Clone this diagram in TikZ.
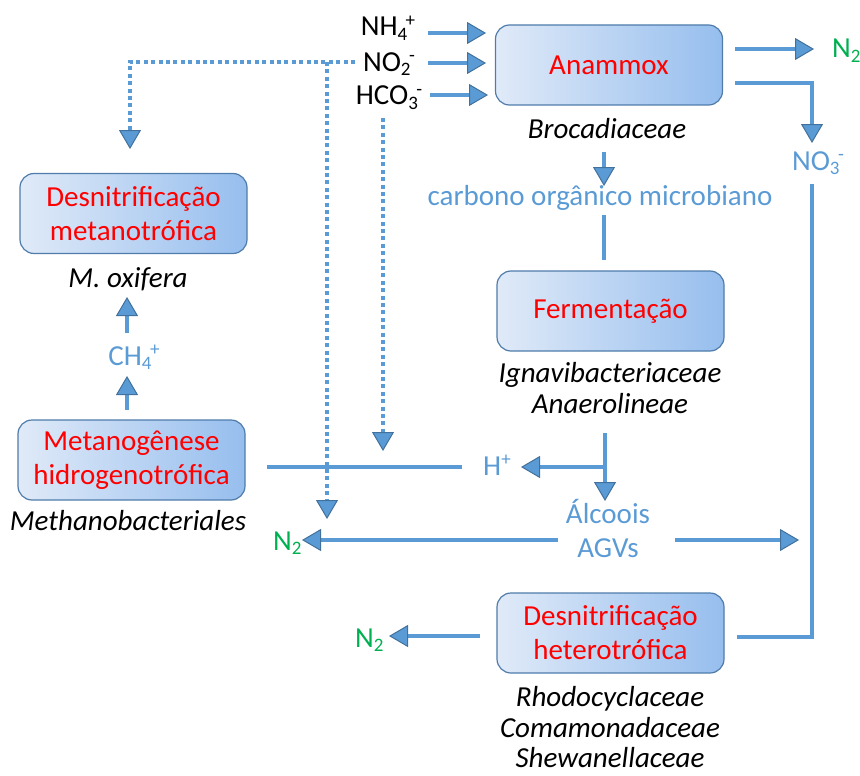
\documentclass[tikz,border=0pt]{standalone}
\usepackage{fontspec}
\setmainfont{Carlito}
\usetikzlibrary{arrows.meta}

\definecolor{flow}{HTML}{5B9BD5}
\definecolor{flowedge}{HTML}{41719C}
\definecolor{boxL}{HTML}{E0EAF8}
\definecolor{boxR}{HTML}{96BEEE}
\definecolor{boxedge}{HTML}{4F7CAB}
\definecolor{procred}{HTML}{FF0000}
\definecolor{gasgreen}{HTML}{00B050}

% small index set below / above the baseline
\newcommand\lowidx[1]{\raisebox{-0.17em}{\fontsize{19}{19}\selectfont #1}}
\newcommand\highidx[1]{\raisebox{0.32em}{\fontsize{19}{19}\selectfont #1}}
% subscript followed by a charge
\newcommand\ionpair[2]{\lowidx{#1}\kern-1.5pt\highidx{#2}}

\tikzset{
  txt/.style={font=\fontsize{29}{34}\selectfont, inner sep=0pt},
  process/.style={txt, draw=boxedge, line width=1.2pt, rounded corners=14pt,
    left color=boxL, right color=boxR, minimum width=227pt, minimum height=80pt,
    align=center, text=procred},
  taxon/.style={txt, font=\fontsize{29}{34}\selectfont\itshape, anchor=base},
  species/.style={txt, text=flow, anchor=base},
  ion/.style={txt, anchor=base},
  gas/.style={txt, text=gasgreen, anchor=base west},
  tip/.style={-{Triangle[length=19pt,width=22pt,line width=1pt,fill=flow,color=flowedge]}},
  flowline/.style={draw=flow, line width=4.5pt},
  flowarrow/.style={flowline, tip},
  dotflow/.style={draw=flow, line width=4pt, dash pattern=on 4pt off 3.4pt},
  dotarrow/.style={dotflow, tip},
}

\begin{document}
\begin{tikzpicture}[x=1pt, y=-1pt]
\useasboundingbox (0,0) rectangle (860,776);

% process boxes
\node[process] (anammox) at (609,65) {Anammox};
\node[process] (metanot) at (133.5,213.5) {Desnitrificação\\metanotrófica};
\node[process] (metanog) at (131.5,460) {Metanogênese\\hidrogenotrófica};
\node[process] (ferment) at (610.5,311) {Fermentação};
\node[process] (hetero) at (610.5,633) {Desnitrificação\\heterotrófica};

% organisms
\node[taxon] (broc) at (607,138) {Brocadiaceae};
\node[taxon] (moxi) at (128,287) {M. oxifera};
\node[taxon] (methb) at (128,530) {Methanobacteriales};
\node[taxon] (ignav) at (610,382) {Ignavibacteriaceae};
\node[taxon] (anaer) at (610,413) {Anaerolineae};
\node[taxon] (rhodo) at (610,706) {Rhodocyclaceae};
\node[taxon] (comam) at (610,737) {Comamonadaceae};
\node[taxon] (shewa) at (610,767) {Shewanellaceae};

% substrates
\node[ion] (nh4) at (388,36) {NH\ionpair{4}{+}};
\node[ion] (no2) at (389,71) {NO\ionpair{2}{-}};
\node[ion] (hco3) at (389,105) {HCO\ionpair{3}{-}};

% intermediates
\node[species] (carb) at (600,205) {carbono orgânico microbiano};
\node[species] (ch4) at (134,365) {CH\ionpair{4}{+}};
\node[species] (hplus) at (497,475) {H\highidx{+}};
\node[species] (alc) at (608,523) {Álcoois};
\node[species] (agv) at (608,557) {AGVs};
\node[species] (no3) at (818,170) {NO\ionpair{3}{-}};

% gaseous products
\node[gas] (n2a) at (832,58) {N\lowidx{2}};
\node[gas] (n2b) at (273,550) {N\lowidx{2}};
\node[gas] (n2c) at (355,647) {N\lowidx{2}};

% connector end points
\coordinate (nh4s) at (428,33);   \coordinate (nh4e) at (486,33);
\coordinate (no2s) at (428,63);   \coordinate (no2e) at (486,63);
\coordinate (hcos) at (430,95);   \coordinate (hcoe) at (488,95);
\coordinate (n2as) at (735,49);   \coordinate (n2ae) at (814,49);
\coordinate (no3s) at (735,83);   \coordinate (no3k) at (812,83);
\coordinate (no3e) at (812,143);
\coordinate (no3o) at (812,184);  \coordinate (hetk) at (812,637);
\coordinate (hete) at (737,637);
\coordinate (brocs) at (604,152); \coordinate (broce) at (604,186);
\coordinate (carbs) at (604,215); \coordinate (carbe) at (604,260);
\coordinate (anas) at (605,433);  \coordinate (anae) at (605,501);
\coordinate (hk) at (605,467);    \coordinate (he) at (521,467);
\coordinate (mgs) at (267,467);   \coordinate (mge) at (462,467);
\coordinate (alcl) at (558,540);  \coordinate (alcle) at (302,540);
\coordinate (alcr) at (675,540);  \coordinate (alcre) at (799,540);
\coordinate (hets) at (480,636);  \coordinate (hetn) at (389,636);
\coordinate (mgu) at (127,410);   \coordinate (ch4b) at (127,376);
\coordinate (ch4t) at (127,333);  \coordinate (mtb) at (127,297);
\coordinate (dots) at (355,62);   \coordinate (dotk) at (130,62);
\coordinate (dote) at (130,149);
\coordinate (dotj) at (327,62);   \coordinate (dotje) at (327,519);
\coordinate (hcod) at (383,118);  \coordinate (hcode) at (383,451);

% anammox inputs and outputs
\draw[flowarrow] (nh4s) -- (nh4e);
\draw[flowarrow] (no2s) -- (no2e);
\draw[flowarrow] (hcos) -- (hcoe);
\draw[flowarrow] (n2as) -- (n2ae);
\draw[flowarrow] (no3s) -- (no3k) -- (no3e);
\draw[flowline] (no3o) -- (hetk) -- (hete);

% carbon chain
\draw[flowarrow] (brocs) -- (broce);
\draw[flowline] (carbs) -- (carbe);
\draw[flowarrow] (anas) -- (anae);
\draw[flowarrow] (hk) -- (he);
\draw[flowline] (mgs) -- (mge);
\draw[flowarrow] (alcl) -- (alcle);
\draw[flowarrow] (alcr) -- (alcre);
\draw[flowarrow] (hets) -- (hetn);

% methane route
\draw[flowarrow] (mgu) -- (ch4b);
\draw[flowarrow] (ch4t) -- (mtb);

% nitrite / bicarbonate routes
\draw[dotarrow] (dots) -- (dotk) -- (dote);
\draw[dotarrow] (dotj) -- (dotje);
\draw[dotarrow] (hcod) -- (hcode);
\end{tikzpicture}
\end{document}
